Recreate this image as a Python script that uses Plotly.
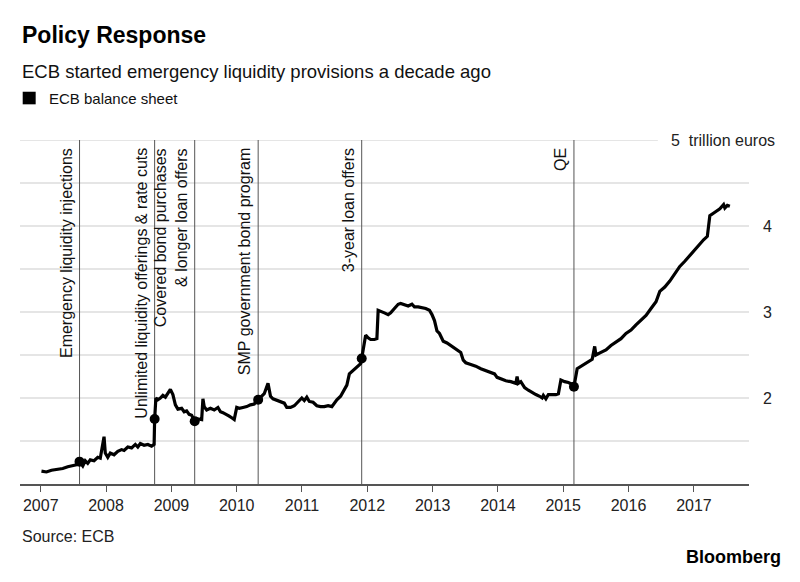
import plotly.graph_objects as go

# ---- data ----
dates = [
    "2007-01-05", "2007-02-02", "2007-03-02", "2007-04-06", "2007-05-04", "2007-06-01",
    "2007-07-06", "2007-08-03", "2007-08-06", "2007-08-24", "2007-09-07", "2007-09-21",
    "2007-10-05", "2007-10-26", "2007-11-16", "2007-11-30", "2007-12-21", "2007-12-28",
    "2008-01-11", "2008-01-25", "2008-02-15", "2008-03-07", "2008-03-28", "2008-04-11",
    "2008-05-02", "2008-05-23", "2008-06-13", "2008-06-27", "2008-07-11", "2008-08-01",
    "2008-08-22", "2008-09-12", "2008-09-26", "2008-09-29", "2008-10-06", "2008-10-17",
    "2008-10-31", "2008-11-14", "2008-11-28", "2008-12-12", "2008-12-26", "2009-01-09",
    "2009-01-23", "2009-02-06", "2009-02-27", "2009-03-13", "2009-03-27", "2009-04-10",
    "2009-04-24", "2009-05-11", "2009-05-22", "2009-06-19", "2009-06-26", "2009-07-03",
    "2009-07-17", "2009-08-07", "2009-08-28", "2009-09-18", "2009-10-02", "2009-10-16",
    "2009-11-06", "2009-11-20", "2009-12-04", "2009-12-18", "2010-01-01", "2010-01-15",
    "2010-02-05", "2010-02-26", "2010-03-19", "2010-04-09", "2010-04-16", "2010-05-01",
    "2010-06-04", "2010-06-25", "2010-07-09", "2010-07-23", "2010-08-13", "2010-09-03",
    "2010-09-24", "2010-10-08", "2010-10-29", "2010-11-19", "2010-12-10", "2010-12-31",
    "2011-01-14", "2011-01-28", "2011-02-11", "2011-03-04", "2011-03-25", "2011-04-15",
    "2011-05-06", "2011-05-27", "2011-06-17", "2011-07-01", "2011-07-15", "2011-08-05",
    "2011-08-19", "2011-09-09", "2011-09-23", "2011-10-14", "2011-11-04", "2011-11-25",
    "2011-12-01", "2011-12-23", "2012-01-06", "2012-01-20", "2012-02-10", "2012-02-24",
    "2012-03-02", "2012-03-16", "2012-04-06", "2012-04-27", "2012-05-11", "2012-06-01",
    "2012-06-22", "2012-07-06", "2012-07-27", "2012-08-17", "2012-09-07", "2012-09-21",
    "2012-10-12", "2012-11-02", "2012-11-23", "2012-12-14", "2012-12-28", "2013-01-11",
    "2013-01-25", "2013-02-08", "2013-03-01", "2013-03-22", "2013-04-12", "2013-05-03",
    "2013-05-24", "2013-06-07", "2013-06-21", "2013-07-05", "2013-08-02", "2013-08-30",
    "2013-09-27", "2013-10-25", "2013-11-22", "2013-12-13", "2013-12-27", "2014-01-17",
    "2014-02-14", "2014-03-14", "2014-04-11", "2014-04-18", "2014-04-25", "2014-05-09",
    "2014-05-30", "2014-06-20", "2014-07-11", "2014-08-01", "2014-08-22", "2014-09-05",
    "2014-09-12", "2014-09-26", "2014-10-10", "2014-10-31", "2014-11-21", "2014-12-05",
    "2014-12-19", "2015-01-09", "2015-01-30", "2015-02-20", "2015-03-02", "2015-03-20",
    "2015-04-17", "2015-05-15", "2015-06-12", "2015-06-26", "2015-07-03", "2015-07-31",
    "2015-08-28", "2015-09-25", "2015-10-23", "2015-11-20", "2015-12-18", "2016-01-15",
    "2016-02-12", "2016-03-11", "2016-04-08", "2016-05-06", "2016-06-03", "2016-06-24",
    "2016-07-22", "2016-08-19", "2016-09-16", "2016-10-14", "2016-11-11", "2016-12-09",
    "2016-12-30", "2017-01-27", "2017-02-24", "2017-03-17", "2017-03-31", "2017-04-28",
    "2017-05-26", "2017-06-16", "2017-06-23", "2017-07-07", "2017-07-21",
]
balance = [
    1.15, 1.14, 1.16, 1.17, 1.18, 1.20,
    1.22, 1.23, 1.26, 1.21, 1.27, 1.24,
    1.28, 1.27, 1.31, 1.30, 1.55, 1.36,
    1.31, 1.36, 1.34, 1.38, 1.40, 1.39,
    1.43, 1.42, 1.46, 1.43, 1.47, 1.45,
    1.46, 1.44, 1.46, 1.755, 2.00, 1.98,
    2.00, 2.03, 2.01, 2.06, 2.10, 2.04,
    1.92, 1.87, 1.88, 1.84, 1.85, 1.81,
    1.80, 1.73, 1.76, 1.75, 1.99, 1.90,
    1.86, 1.88, 1.86, 1.89, 1.84, 1.83,
    1.81, 1.79, 1.77, 1.75, 1.89, 1.88,
    1.89, 1.90, 1.92, 1.93, 1.95, 1.98,
    2.05, 2.17, 2.02, 1.99, 1.97, 1.95,
    1.94, 1.89, 1.89, 1.91, 1.95, 2.00,
    1.97, 2.01, 1.96, 1.95, 1.91, 1.90,
    1.90, 1.91, 1.90, 1.94, 1.98, 2.02,
    2.08, 2.15, 2.28, 2.32, 2.35, 2.40,
    2.46, 2.73, 2.70, 2.68, 2.68, 2.69,
    3.02, 3.01, 2.99, 2.97, 2.99, 3.04,
    3.09, 3.10, 3.08, 3.07, 3.09, 3.06,
    3.06, 3.05, 3.04, 3.02, 2.97, 2.90,
    2.78, 2.75, 2.66, 2.64, 2.61, 2.58,
    2.55, 2.53, 2.44, 2.41, 2.39, 2.37,
    2.34, 2.32, 2.30, 2.28, 2.24, 2.22,
    2.20, 2.19, 2.17, 2.25, 2.17, 2.19,
    2.12, 2.09, 2.06, 2.04, 2.02, 2.00,
    2.03, 1.99, 2.04, 2.04, 2.04, 2.05,
    2.21, 2.19, 2.18, 2.16, 2.13, 2.34,
    2.38, 2.41, 2.45, 2.60, 2.50, 2.53,
    2.56, 2.61, 2.65, 2.69, 2.75, 2.79,
    2.85, 2.90, 2.96, 3.04, 3.12, 3.24,
    3.29, 3.36, 3.45, 3.53, 3.59, 3.66,
    3.71, 3.78, 3.84, 3.88, 4.12, 4.16,
    4.20, 4.25, 4.21, 4.24, 4.23,
]

event_dates = ["2007-08-06", "2008-09-29", "2009-05-11", "2010-05-01", "2011-12-01", "2015-03-02"]
event_values = [1.26, 1.755, 1.73, 1.98, 2.46, 2.13]
event_labels = [
    "Emergency liquidity injections",
    "Unlimited liquidity offerings & rate cuts",
    "Covered bond purchases<br>& longer loan offers",
    "SMP government bond program",
    "3-year loan offers",
    "QE",
]

year_ticks = ["2007-01-01", "2008-01-01", "2009-01-01", "2010-01-01", "2011-01-01", "2012-01-01",
              "2013-01-01", "2014-01-01", "2015-01-01", "2016-01-01", "2017-01-01"]
year_labels = ["2007", "2008", "2009", "2010", "2011", "2012", "2013", "2014", "2015", "2016", "2017"]

grid_values = [1.5, 2, 2.5, 3, 3.5, 4, 4.5]
y_tick_values = [2, 3, 4]
y_tick_labels = ["2", "3", "4"]
y_top_value = 5
y_top_label = "5\u00a0 trillion euros"

FONT = "Liberation Sans, Arial, Helvetica, sans-serif"

# ---- figure ----
fig = go.Figure()
fig.add_trace(go.Scatter(x=dates, y=balance, mode="lines",
                         line=dict(color="black", width=3.2), hoverinfo="skip",
                         showlegend=False))
fig.add_trace(go.Scatter(x=event_dates, y=event_values, mode="markers",
                         marker=dict(color="black", size=10), hoverinfo="skip",
                         showlegend=False))

shapes = []
for g in grid_values:
    shapes.append(dict(type="line", xref="paper", x0=0, x1=1, yref="y", y0=g, y1=g,
                       line=dict(color="#dddddd", width=1.5), layer="below"))
# top grid line stops before the unit label
shapes.append(dict(type="line", xref="paper", x0=0, x1=0.875, yref="y", y0=y_top_value, y1=y_top_value,
                   line=dict(color="#dddddd", width=1.5), layer="below"))
for d in event_dates:
    shapes.append(dict(type="line", xref="x", x0=d, x1=d, yref="y", y0=1, y1=5,
                       line=dict(color="#555555", width=1), layer="below"))
# legend square
shapes.append(dict(type="rect", xref="paper", yref="paper", x0=0.0037, x1=0.0215,
                   y0=1.1037, y1=1.1403, fillcolor="black", line=dict(width=0)))

annotations = []
for d, lab in zip(event_dates, event_labels):
    annotations.append(dict(x=d, y=5, xref="x", yref="y", text=lab, textangle=-90,
                            showarrow=False, xanchor="right", yanchor="top",
                            xshift=-3, yshift=-6, align="right",
                            font=dict(family=FONT, size=16, color="#111111")))
for v, lab in zip(y_tick_values, y_tick_labels):
    annotations.append(dict(x=1.0247, y=v, xref="paper", yref="y", text=lab,
                            showarrow=False, xanchor="center", yanchor="middle",
                            font=dict(family=FONT, size=16, color="#222222")))
annotations.append(dict(x=1.038, y=y_top_value, xref="paper", yref="y", text=y_top_label,
                        showarrow=False, xanchor="right", yanchor="middle",
                        font=dict(family=FONT, size=16, color="#222222")))
# titles, legend, source, logo
annotations += [
    dict(x=0.0, y=1.3055, xref="paper", yref="paper", text="<b>Policy Response</b>",
         showarrow=False, xanchor="left", yanchor="middle",
         font=dict(family=FONT, size=23, color="black")),
    dict(x=0.0, y=1.20, xref="paper", yref="paper",
         text="ECB started emergency liquidity provisions a decade ago",
         showarrow=False, xanchor="left", yanchor="middle",
         font=dict(family=FONT, size=18.5, color="#111111")),
    dict(x=0.0366, y=1.122, xref="paper", yref="paper", text="ECB balance sheet",
         showarrow=False, xanchor="left", yanchor="middle",
         font=dict(family=FONT, size=15, color="#111111")),
    dict(x=0.0, y=-0.153, xref="paper", yref="paper", text="Source: ECB",
         showarrow=False, xanchor="left", yanchor="middle",
         font=dict(family=FONT, size=16, color="#222222")),
    dict(x=1.0467, y=-0.2134, xref="paper", yref="paper", text="<b>Bloomberg</b>",
         showarrow=False, xanchor="right", yanchor="middle",
         font=dict(family=FONT, size=18, color="black")),
]

# The page body adds an 8px offset, so margins are reduced by 8px on left/top
fig.update_layout(
    width=800, height=582,
    margin=dict(l=12, r=59, t=132, b=105.7, pad=0),
    paper_bgcolor="white", plot_bgcolor="white",
    shapes=shapes, annotations=annotations,
    showlegend=False,
    xaxis=dict(type="date", range=["2006-09-07", "2017-11-05"],
               tickvals=year_ticks, ticktext=year_labels,
               showgrid=False, zeroline=False,
               showline=True, linecolor="#555555", linewidth=1.5,
               ticks="outside", ticklen=6, tickcolor="#555555", tickwidth=1,
               tickfont=dict(family=FONT, size=16, color="#222222")),
    yaxis=dict(range=[1, 5], showgrid=False, zeroline=False, showticklabels=False,
               showline=False, ticks=""),
)

fig.write_html("out.html")
